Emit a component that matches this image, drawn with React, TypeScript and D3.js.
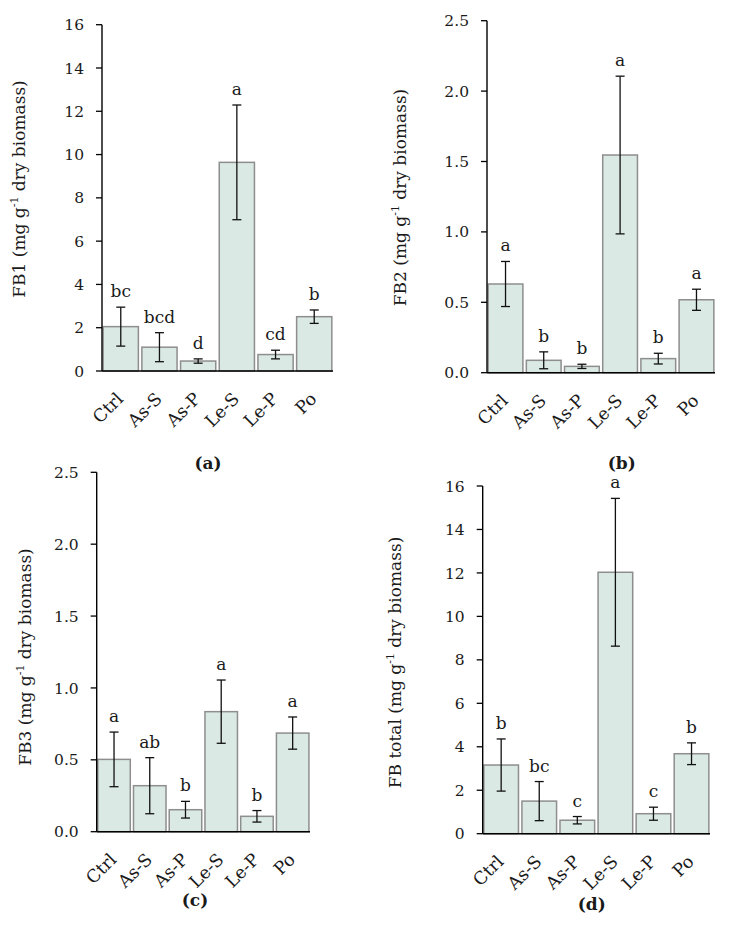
import React from "react";
import * as d3 from "d3";

const categories = ["Ctrl", "As-S", "As-P", "Le-S", "Le-P", "Po"];

const fb1Means = [2.05, 1.1, 0.46, 9.64, 0.76, 2.51];
const fb1Errors = [0.9, 0.67, 0.1, 2.65, 0.2, 0.31];
const fb1Letters = ["bc", "bcd", "d", "a", "cd", "b"];

const fb2Means = [0.63, 0.088, 0.045, 1.546, 0.1, 0.518];
const fb2Errors = [0.16, 0.06, 0.015, 0.56, 0.038, 0.075];
const fb2Letters = ["a", "b", "b", "a", "b", "a"];

const fb3Means = [0.503, 0.32, 0.153, 0.835, 0.107, 0.686];
const fb3Errors = [0.19, 0.195, 0.058, 0.22, 0.04, 0.112];
const fb3Letters = ["a", "ab", "b", "a", "b", "a"];

const fbTotalMeans = [3.16, 1.5, 0.62, 12.03, 0.92, 3.68];
const fbTotalErrors = [1.2, 0.9, 0.17, 3.4, 0.3, 0.5];
const fbTotalLetters = ["b", "bc", "c", "a", "c", "b"];

const FONT = "'DejaVu Serif', serif";
const TEXT = "#1a1a1a";

type PanelProps = {
  x0: number; x1: number; yTop: number; y0: number;
  max: number; step: number; fmt: string;
  means: number[]; errors: number[]; letters: string[];
  titleMain: string; titleX: number; titleY: number;
  label: string; labelX: number; labelY: number;
};

function Panel(p: PanelProps) {
  const x = d3.scaleBand<string>().domain(categories).range([p.x0, p.x1]).paddingInner(0.09).paddingOuter(0.03);
  const y = d3.scaleLinear().domain([0, p.max]).range([p.y0, p.yTop]);
  const ticks = d3.range(0, p.max + p.step / 2, p.step);
  const f = d3.format(p.fmt);
  const bw = x.bandwidth();
  return (
    <g>
      {categories.map((c, i) => {
        const cx = (x(c) as number) + bw / 2;
        const top = y(p.means[i] + p.errors[i]);
        const bot = y(Math.max(0, p.means[i] - p.errors[i]));
        return (
          <g key={c}>
            <rect x={x(c)} y={y(p.means[i])} width={bw} height={p.y0 - y(p.means[i])}
              fill="#dae9e4" stroke="#8e8e8e" strokeWidth={1.5} />
            <line x1={cx} x2={cx} y1={top} y2={bot} stroke="#111" strokeWidth={1.3} />
            <line x1={cx - 4.5} x2={cx + 4.5} y1={top} y2={top} stroke="#111" strokeWidth={1.3} />
            <line x1={cx - 4.5} x2={cx + 4.5} y1={bot} y2={bot} stroke="#111" strokeWidth={1.3} />
            <text x={cx} y={top - 10} textAnchor="middle" fontFamily={FONT} fontSize={17} fill={TEXT}>{p.letters[i]}</text>
            <text transform={`translate(${cx + 3.5},${p.y0 + 29}) rotate(-45)`} textAnchor="end"
              fontFamily={FONT} fontSize={17.5} fill={TEXT}>{c}</text>
          </g>
        );
      })}
      <line x1={p.x0} x2={p.x0} y1={p.yTop} y2={p.y0} stroke="#000" strokeWidth={1.4} />
      <line x1={p.x0} x2={p.x1} y1={p.y0} y2={p.y0} stroke="#000" strokeWidth={1.4} />
      {ticks.map((t) => (
        <g key={t}>
          <line x1={p.x0 - 6} x2={p.x0} y1={y(t)} y2={y(t)} stroke="#000" strokeWidth={1.3} />
          <text x={p.x0 - 18} y={y(t)} dy="0.36em" textAnchor="end" fontFamily={FONT} fontSize={15.5} fill={TEXT}>{f(t)}</text>
        </g>
      ))}
      <text transform={`translate(${p.titleX},${p.titleY}) rotate(-90)`} textAnchor="middle"
        fontFamily={FONT} fontSize={17} fill={TEXT}>
        {p.titleMain} (mg g<tspan fontSize={11} dy={-7}>-1</tspan><tspan dy={7}> dry biomass)</tspan>
      </text>
      <text x={p.labelX} y={p.labelY} textAnchor="middle" fontFamily={FONT} fontSize={17} fontWeight="bold" fill={TEXT}>{p.label}</text>
    </g>
  );
}

export default function App() {
  return (
    <svg width={729} height={925} style={{ position: "absolute", left: 0, top: 0, background: "#fff" }}>
      <rect width={729} height={925} fill="#fff" />
      <Panel x0={102} x1={333} yTop={24.7} y0={371} max={16} step={2} fmt="d"
        means={fb1Means} errors={fb1Errors} letters={fb1Letters}
        titleMain="FB1" titleX={24.5} titleY={189} label="(a)" labelX={208} labelY={469} />
      <Panel x0={487} x1={715} yTop={20.7} y0={372.7} max={2.5} step={0.5} fmt=".1f"
        means={fb2Means} errors={fb2Errors} letters={fb2Letters}
        titleMain="FB2" titleX={406} titleY={197.5} label="(b)" labelX={621.7} labelY={469} />
      <Panel x0={96.7} x1={310} yTop={472.3} y0={831.7} max={2.5} step={0.5} fmt=".1f"
        means={fb3Means} errors={fb3Errors} letters={fb3Letters}
        titleMain="FB3" titleX={31} titleY={657} label="(c)" labelX={195} labelY={906} />
      <Panel x0={482.7} x1={710} yTop={486} y0={833.7} max={16} step={2} fmt="d"
        means={fbTotalMeans} errors={fbTotalErrors} letters={fbTotalLetters}
        titleMain="FB total" titleX={401} titleY={662.5} label="(d)" labelX={591.7} labelY={910} />
    </svg>
  );
}
